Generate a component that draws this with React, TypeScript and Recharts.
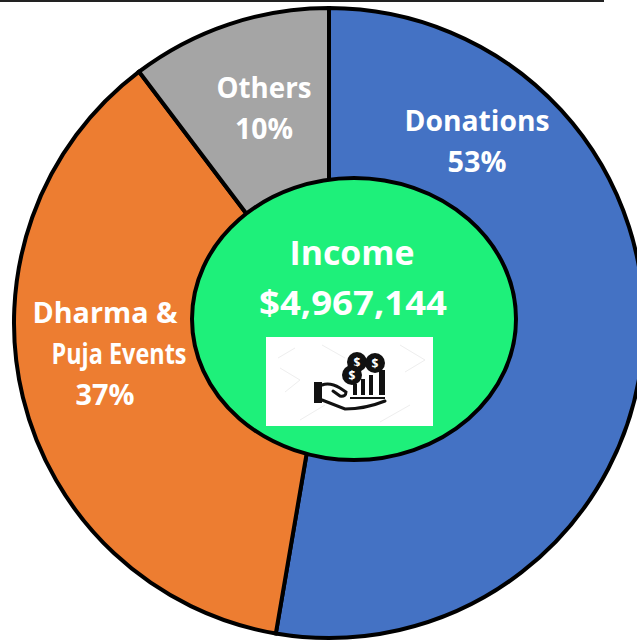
import { Cell, Pie, PieChart } from "recharts";

const categories = ["Donations", "Dharma & Puja Events", "Others"];
const shares = [52.7, 37.0, 10.3];
const colors = ["#4472c4", "#ed7d31", "#a5a5a5"];
const labelLines = [["Donations"], ["Dharma &", "Puja Events"], ["Others"]];
const centerTitle = "Income";
const centerValue = "$4,967,144";

// top-centre of each slice caption, placed by hand like in the original slide
const labelAnchors = [
  { x: 477, y: 120 },
  { x: 105, y: 312 },
  { x: 264, y: 87 },
];
// the "Puja Events" line sits a bit to the right of the other two
const lineShifts = [[0, 0], [0, 14, 0], [0, 0]];
// measured text widths, the original type is a squeezed Calibri
const lineWidths = [[145, 59], [145, 135, 59], [95, 58]];

const data = categories.map((name, i) => ({ name, value: shares[i] }));

const font = "'Open Sans', Lato, sans-serif";
const lineGap = 41;

function Caption({ x, y, size = 28, width, children }: { x: number; y: number; size?: number; width: number; children: string }) {
  return (
    <text
      x={x}
      y={y}
      fill="#ffffff"
      fontFamily={font}
      fontSize={size}
      fontWeight={700}
      textAnchor="middle"
      dominantBaseline="central"
      textLength={width}
      lengthAdjust="spacingAndGlyphs"
    >
      {children}
    </text>
  );
}

function renderLabel(props: any) {
  const { index, value } = props;
  const { x, y } = labelAnchors[index];
  const lines = [...labelLines[index], `${Math.round(value)}%`];
  return (
    <g key={index}>
      {lines.map((line, i) => (
        <Caption key={line} x={x + lineShifts[index][i]} y={y + i * lineGap} width={lineWidths[index][i]}>
          {line}
        </Caption>
      ))}
    </g>
  );
}

function IncomeIcon() {
  return (
    <g>
      <rect x={266} y={337} width={167} height={89} fill="#ffffff" />
      {/* faint watermark behind the icon */}
      <g stroke="#eeeeee" strokeWidth={1} fill="none">
        <path d="M278 358 L295 348 M280 368 L300 380 L285 392 M322 345 L345 358 M400 345 L425 360 L405 372 M300 420 L325 405 M380 422 L410 405" />
      </g>
      <rect x={314} y={382} width={8} height={21} fill="#111111" />
      <path
        d="M322 385 Q330 382 340 388 L346 392 Q346 397 340 396 L333 391 M322 400 L345 409 Q365 409 385 401"
        fill="none"
        stroke="#111111"
        strokeWidth={3}
        strokeLinecap="round"
      />
      <rect x={353} y={384} width={4} height={11} fill="#111111" />
      <rect x={361} y={379} width={4} height={16} fill="#111111" />
      <rect x={369} y={375} width={4} height={20} fill="#111111" />
      <rect x={379} y={370} width={6} height={25} fill="#111111" />
      <path d="M350 398 L385 398" stroke="#111111" strokeWidth={2} />
      {[
        [357, 362],
        [375, 363],
        [352, 375],
      ].map(([cx, cy]) => (
        <g key={`${cx}-${cy}`}>
          <circle cx={cx} cy={cy} r={10} fill="#111111" />
          <text x={cx} y={cy} fill="#ffffff" fontFamily={font} fontSize={12} fontWeight={700} textAnchor="middle" dominantBaseline="central">
            $
          </text>
        </g>
      ))}
    </g>
  );
}

export default function App() {
  return (
    <div style={{ position: "absolute", left: 0, top: 0, width: 637, height: 641, background: "#ffffff", overflow: "hidden" }}>
      <PieChart width={637} height={641} margin={{ top: 0, right: 0, bottom: 0, left: 0 }}>
        <Pie
          data={data}
          dataKey="value"
          nameKey="name"
          cx={329}
          cy={323}
          innerRadius={0}
          outerRadius={315}
          startAngle={90}
          endAngle={-270}
          stroke="#000000"
          strokeWidth={4}
          label={renderLabel}
          labelLine={false}
          isAnimationActive={false}
        >
          {data.map((d, i) => (
            <Cell key={d.name} fill={colors[i]} />
          ))}
        </Pie>
        <line x1={0} y1={0.5} x2={604} y2={0.5} stroke="#222222" strokeWidth={3} />
      </PieChart>
      {/* centre disc sits on top of the pie, it is a stretched oval in the original */}
      <svg width={637} height={641} style={{ position: "absolute", left: 0, top: 0, pointerEvents: "none" }}>
        <ellipse cx={354} cy={319} rx={162} ry={141} fill="#1ef07a" stroke="#000000" strokeWidth={4} />
        <Caption x={352} y={252} size={34} width={125}>{centerTitle}</Caption>
        <Caption x={353} y={302} size={34} width={188}>{centerValue}</Caption>
        <IncomeIcon />
      </svg>
    </div>
  );
}
